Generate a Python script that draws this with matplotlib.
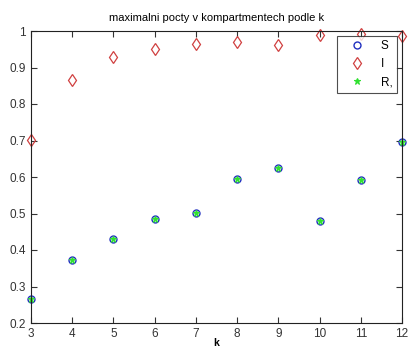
import numpy as np
import matplotlib
matplotlib.use("Agg")
import matplotlib.pyplot as plt

plt.rcParams['font.family'] = ['Liberation Sans', 'DejaVu Sans']

# hodnoty
k = [3, 4, 5, 6, 7, 8, 9, 10, 11, 12]
max_S = [0.266, 0.373, 0.429, 0.484, 0.502, 0.594, 0.624, 0.479, 0.592, 0.695]
max_I = [0.701, 0.866, 0.928, 0.952, 0.965, 0.970, 0.962, 0.990, 0.993, 0.987]
max_R = [0.266, 0.373, 0.429, 0.484, 0.502, 0.594, 0.624, 0.479, 0.592, 0.695]

fig = plt.figure(figsize=(4.08, 3.49), dpi=100)
ax = fig.add_axes([31/408, 1-323/349, 371/408, 292/349])

ax.plot(k, max_S, 'o', mfc='none', mec='#2030c0', ms=5, mew=1.0, label='S', clip_on=False)
ax.plot(k, max_I, 'd', mfc='none', mec='#d04040', ms=6, mew=0.9, label='I', clip_on=False)
ax.plot(k, max_R, '*', color='#30e030', ms=5, mew=0.8, label='R,', clip_on=False)

ax.set_xlim(3, 12)
ax.set_ylim(0.2, 1.0)
ax.set_xticks(k)
ax.set_yticks(np.arange(0.2, 1.01, 0.1))
ax.set_yticklabels(['0.2', '0.3', '0.4', '0.5', '0.6', '0.7', '0.8', '0.9', '1'])
ax.tick_params(direction='in', top=True, right=True, labelsize=8.5,
               colors='#333333', length=4, width=0.8)
for s in ax.spines.values():
    s.set_color('#222222')
    s.set_linewidth(0.8)

ax.set_title('maximalni pocty v kompartmentech podle k', fontsize=8, pad=7)
ax.set_xlabel('k', fontsize=7.5, fontweight='bold', labelpad=-1)

leg = ax.legend(loc='upper right', fontsize=8.5, frameon=True, fancybox=False,
                borderaxespad=0.4, handlelength=2.5, labelspacing=0.5)
leg.get_frame().set_edgecolor('#222222')
leg.get_frame().set_linewidth(0.8)

fig.savefig('out.png', dpi=100)
